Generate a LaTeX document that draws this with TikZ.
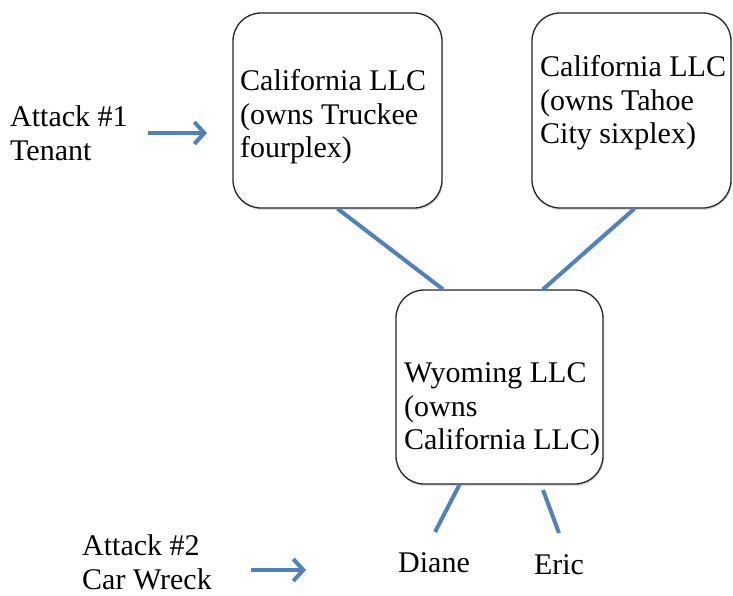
\documentclass[tikz,border=0pt]{standalone}
\usepackage{fontspec}
\setmainfont{Liberation Serif}
\usetikzlibrary{shadows,arrows.meta}
\definecolor{linkblue}{RGB}{79,129,189}
\begin{document}
\begin{tikzpicture}[x=1pt,y=-1pt,
  box/.style={draw=black!85, line width=1.3pt, rounded corners=28pt, fill=white,
    drop shadow={opacity=0.25, shadow xshift=1pt, shadow yshift=-2pt}, inner sep=0pt},
  txt/.style={font=\fontsize{30}{33.5}\selectfont, align=left, inner sep=0pt, anchor=north west},
  pname/.style={font=\fontsize{30}{33.5}\selectfont, inner sep=0pt, anchor=base},
  link/.style={draw=linkblue, line width=4pt},
  attack/.style={link, -{Straight Barb[length=10pt,width=22pt]}}]
\useasboundingbox (0,0) rectangle (733,595);
\node[box, minimum width=209pt, minimum height=195pt] (b1) at (337.5,110.5) {};
\node[box, minimum width=199pt, minimum height=195pt] (b2) at (631.5,110.5) {};
\node[box, minimum width=207pt, minimum height=194pt] (b3) at (499.5,387) {};
\node[txt] (t1) at (240,69.5) {California LLC\\(owns Truckee\\fourplex)};
\node[txt] (t2) at (540,55.5) {California LLC\\(owns Tahoe\\City sixplex)};
\node[txt] (t3) at (404,362.5) {Wyoming LLC\\(owns\\California LLC)};
\node[txt] (at1) at (10,105.5) {Attack \#1\\Tenant};
\node[txt] (at2) at (82,534.5) {Attack \#2\\Car Wreck};
\node[pname] (diane) at (434,572) {Diane};
\node[pname] (eric) at (559,574) {Eric};
\coordinate (a1s) at (148,133);
\coordinate (a1e) at (207,133);
\coordinate (a2s) at (251,570);
\coordinate (a2e) at (306,570);
\coordinate (d2) at (435,532);
\coordinate (e1) at (543,490);
\coordinate (e2) at (559,533);
\draw[link] (b1.south) -- ([xshift=-56.5pt]b3.north);
\draw[link] ([xshift=3pt]b2.south) -- ([xshift=43.5pt]b3.north);
\draw[link] ([xshift=-40pt]b3.south) -- (d2);
\draw[link] (e1) -- (e2);
\draw[attack] (a1s) -- (a1e);
\draw[attack] (a2s) -- (a2e);
\end{tikzpicture}
\end{document}
